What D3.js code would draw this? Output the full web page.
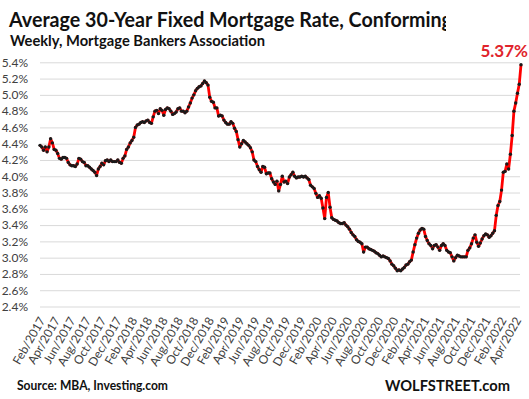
<!DOCTYPE html>
<html>
<head>
<meta charset="utf-8">
<script src="https://cdn.jsdelivr.net/npm/d3@7"></script>
<style>
  body { margin: 0; background: #fff; }
  svg { display: block; font-family: Lato, "Open Sans", sans-serif; }
</style>
</head>
<body>
<svg></svg>
<script>
// weekly MBA 30y fixed conforming rate, first week ending Feb 3 2017
let startDate = "2017-02-03"
let rates = [
  4.38,4.36,4.32,4.36,4.30,4.36,4.46,4.41,4.33,4.32,
  4.28,4.22,4.21,4.23,4.23,4.22,4.17,4.14,4.13,4.13,
  4.12,4.15,4.22,4.21,4.18,4.17,4.13,4.13,4.11,4.09,
  4.07,4.05,4.01,4.09,4.12,4.16,4.14,4.19,4.20,4.18,
  4.20,4.18,4.18,4.18,4.20,4.17,4.16,4.22,4.25,4.33,
  4.36,4.41,4.44,4.48,4.60,4.63,4.64,4.66,4.67,4.66,
  4.68,4.69,4.66,4.65,4.73,4.80,4.81,4.77,4.83,4.81,
  4.75,4.82,4.84,4.83,4.80,4.76,4.77,4.79,4.83,4.84,
  4.80,4.80,4.78,4.80,4.85,4.90,4.96,5.00,5.05,5.08,
  5.10,5.11,5.14,5.17,5.15,5.12,4.97,4.92,4.91,4.84,
  4.84,4.74,4.75,4.74,4.69,4.66,4.64,4.64,4.67,4.65,
  4.59,4.55,4.45,4.36,4.40,4.44,4.42,4.40,4.38,4.35,
  4.30,4.20,4.18,4.12,4.08,4.05,4.12,4.11,4.03,4.04,
  4.04,3.97,3.93,3.90,3.94,3.82,3.90,4.00,3.93,3.94,
  3.91,3.99,4.02,4.05,4.00,3.98,3.99,3.99,4.00,3.99,
  4.00,3.98,3.96,3.89,3.87,3.85,3.79,3.74,3.76,3.73,
  3.61,3.48,3.74,3.80,3.62,3.49,3.47,3.46,3.45,3.43,
  3.42,3.42,3.43,3.40,3.38,3.35,3.31,3.28,3.26,3.22,
  3.20,3.19,3.17,3.07,3.13,3.13,3.11,3.10,3.09,3.08,
  3.06,3.05,3.03,3.01,3.02,3.01,3.00,2.99,2.96,2.92,
  2.90,2.87,2.84,2.85,2.84,2.86,2.88,2.91,2.92,2.95,
  2.97,3.07,3.16,3.24,3.30,3.34,3.36,3.35,3.26,3.21,
  3.17,3.15,3.11,3.15,3.16,3.13,3.09,3.15,3.17,3.15,
  3.09,3.07,3.06,3.01,2.96,3.00,3.03,3.02,3.01,3.01,
  3.01,3.01,3.09,3.12,3.17,3.24,3.28,3.19,3.14,3.18,
  3.23,3.27,3.29,3.28,3.25,3.27,3.30,3.33,3.52,3.64,
  3.69,3.83,4.05,4.06,4.15,4.09,4.27,4.50,4.80,4.90,
  5.02,5.13,5.37
]
let yTicks = [2.4,2.6,2.8,3.0,3.2,3.4,3.6,3.8,4.0,4.2,4.4,4.6,4.8,5.0,5.2,5.4]
let xTickLabels = [
  "Feb/2017","Apr/2017","Jun/2017","Aug/2017","Oct/2017","Dec/2017",
  "Feb/2018","Apr/2018","Jun/2018","Aug/2018","Oct/2018","Dec/2018",
  "Feb/2019","Apr/2019","Jun/2019","Aug/2019","Oct/2019","Dec/2019",
  "Feb/2020","Apr/2020","Jun/2020","Aug/2020","Oct/2020","Dec/2020",
  "Feb/2021","Apr/2021","Jun/2021","Aug/2021","Oct/2021","Dec/2021",
  "Feb/2022","Apr/2022"
]
let lastLabel = "5.37%"

let width = 529
let height = 399

let svg = d3.select("svg").attr("width", width).attr("height", height)

let t0 = d3.timeParse("%Y-%m-%d")(startDate)
let values = rates.map((v, i) => ({ date: d3.timeWeek.offset(t0, i), v: v }))
let parseLabel = d3.timeParse("%b/%Y")

let xScale = d3.scaleTime()
  .domain(d3.extent(values, d => d.date))
  .range([40, 521])

let yScale = d3.scaleLinear()
  .domain([2.4, 5.4])
  .range([306.5, 62.3])

// gridlines
let yAxis = d3.axisLeft(yScale)
  .tickValues(yTicks)
  .tickSize(-480)
  .tickPadding(12)
  .tickFormat(d => d.toFixed(1) + "%")

let gy = svg.append("g")
  .attr("transform", "translate(40,0)")
  .call(yAxis)
gy.select(".domain").remove()
gy.selectAll(".tick line").attr("stroke", "#d9d9d9").attr("stroke-width", 1)
gy.selectAll(".tick text")
  .attr("fill", "#404040")
  .style("font-size", "12px")
  .style("font-family", "Lato, sans-serif")

// x labels
let xAxis = d3.axisBottom(xScale)
  .tickValues(xTickLabels.map(parseLabel))
  .tickSize(0)
  .tickFormat(d3.timeFormat("%b/%Y"))

let gx = svg.append("g")
  .attr("transform", "translate(0,312)")
  .call(xAxis)
gx.select(".domain").remove()
gx.selectAll(".tick text")
  .attr("fill", "#404040")
  .style("font-size", "12px")
  .style("font-family", "Lato, sans-serif")
  .attr("text-anchor", "end")
  .attr("dy", "0.35em")
  .attr("y", 0)
  .attr("transform", "translate(2,6) rotate(-60)")

// the line
let line = d3.line()
  .x(d => xScale(d.date))
  .y(d => yScale(d.v))

svg.append("path")
  .datum(values)
  .attr("fill", "none")
  .attr("stroke", "#ff0000")
  .attr("stroke-width", 2.8)
  .attr("stroke-linejoin", "round")
  .attr("d", line)

svg.selectAll("circle.dot")
  .data(values)
  .enter()
  .append("circle")
  .attr("class", "dot")
  .attr("cx", d => xScale(d.date))
  .attr("cy", d => yScale(d.v))
  .attr("r", 1.7)
  .attr("fill", "#1a1a1a")

// titles
svg.append("clipPath").attr("id", "titleclip")
  .append("rect").attr("x", 0).attr("y", 0).attr("width", 446).attr("height", 40)

svg.append("text")
  .attr("clip-path", "url(#titleclip)")
  .attr("x", 9).attr("y", 27)
  .attr("textLength", 443)
  .attr("lengthAdjust", "spacingAndGlyphs")
  .style("font-size", "21px")
  .style("font-weight", "700")
  .attr("fill", "#111")
  .text("Average 30-Year Fixed Mortgage Rate, Conforming")

svg.append("text")
  .attr("x", 10).attr("y", 46)
  .attr("textLength", 255)
  .attr("lengthAdjust", "spacingAndGlyphs")
  .style("font-size", "14.5px")
  .style("font-weight", "700")
  .attr("fill", "#111")
  .text("Weekly, Mortgage Bankers Association")

svg.append("text")
  .attr("x", 528).attr("y", 57)
  .attr("text-anchor", "end")
  .style("font-size", "17px")
  .style("font-weight", "700")
  .attr("fill", "#e0242c")
  .text(lastLabel)

svg.append("text")
  .attr("x", 17).attr("y", 390)
  .attr("textLength", 151)
  .attr("lengthAdjust", "spacingAndGlyphs")
  .style("font-size", "13px")
  .style("font-weight", "700")
  .attr("fill", "#111")
  .text("Source: MBA,  Investing.com")

svg.append("text")
  .attr("x", 385).attr("y", 391)
  .attr("textLength", 125)
  .attr("lengthAdjust", "spacingAndGlyphs")
  .style("font-size", "15px")
  .style("font-weight", "700")
  .attr("fill", "#111")
  .text("WOLFSTREET.com")
</script>
</body>
</html>
